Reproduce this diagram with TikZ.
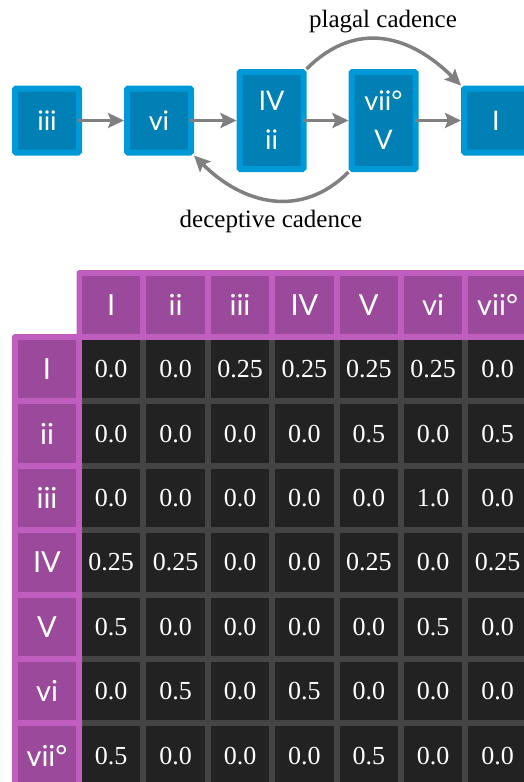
\documentclass[tikz,border=0pt]{standalone}
\usepackage{fontspec}
\setmainfont{Liberation Serif}
\newfontfamily\sansf{Lato}
\usetikzlibrary{arrows.meta}
\definecolor{boxbd}{HTML}{0099D8}
\definecolor{boxin}{HTML}{0080B4}
\definecolor{purpbd}{HTML}{C05EC0}
\definecolor{purpin}{HTML}{9B4A9B}
\definecolor{cellbg}{HTML}{222222}
\definecolor{gridbg}{HTML}{444444}
\definecolor{arrowgray}{HTML}{808080}
\begin{document}
\begin{tikzpicture}[x=1pt,y=-1pt,
 chord/.style={draw=boxbd, fill=boxin, line width=6pt, rounded corners=1pt, minimum width=64pt, minimum height=64pt, inner sep=0pt, text=white, font=\sansf\fontsize{27}{39}\selectfont, align=center},
 conn/.style={draw=arrowgray, line width=3.5pt, -{Stealth[length=16pt,width=15pt,inset=3pt]}},
 lbl/.style={font=\fontsize{25}{28}\selectfont, text=black, inner sep=0pt},
 hdr/.style={fill=purpin, minimum width=58.4pt, minimum height=58.4pt, inner sep=0pt, text=white, font=\sansf\fontsize{29}{30}\selectfont},
 datacell/.style={fill=cellbg, minimum width=58.4pt, minimum height=58.4pt, inner sep=0pt, text=white, font=\fontsize{26}{28}\selectfont},
 purpframe/.style={fill=purpbd, rounded corners=3pt}]
\useasboundingbox (0,0) rectangle (524,782);
\clip (0,0) rectangle (524,782);
% top graph
\node[chord] (iii) at (47,120.5) {iii};
\node[chord] (vi) at (159,120.5) {vi};
\node[chord, minimum height=97pt] (IVii) at (271.5,120.5) {IV\\ii};
\node[chord, minimum height=97pt] (viiV) at (383.5,120.5) {vii°\\V};
\node[chord] (I) at (496,120.5) {I};
\draw[conn, shorten <=-4pt] (iii) -- (vi);
\draw[conn, shorten <=-4pt] (vi) -- (IVii);
\draw[conn, shorten <=-4pt] (IVii) -- (viiV);
\draw[conn, shorten <=-4pt] (viiV) -- (I);
\draw[conn] (IVii.north east) .. controls +(50,-50) and +(-50,-50) .. (I.north west);
\draw[conn] (viiV.south west) .. controls +(-48,48) and +(48,48) .. (vi.south east);
\node[lbl] (plagal) at (383,22) {plagal cadence};
\node[lbl] (decept) at (271,221) {deceptive cadence};
% table
\fill[gridbg] (76,334) rectangle (560,820);
\fill[purpframe] (76.5,270) rectangle (560,340);
\fill[purpframe] (12,334) rectangle (82,830);
\foreach \lab [count=\i from 0] in {I,ii,iii,IV,V,vi,vii°} {
  \node[hdr] (h\i) at (111.2+64.4*\i, 304.7) {\lab};
  \node[hdr] (r\i) at (47, 369.2+64.4*\i) {\lab};
}
\foreach \row [count=\r from 0] in {
  {0.0,0.0,0.25,0.25,0.25,0.25,0.0},
  {0.0,0.0,0.0,0.0,0.5,0.0,0.5},
  {0.0,0.0,0.0,0.0,0.0,1.0,0.0},
  {0.25,0.25,0.0,0.0,0.25,0.0,0.25},
  {0.5,0.0,0.0,0.0,0.0,0.5,0.0},
  {0.0,0.5,0.0,0.5,0.0,0.0,0.0},
  {0.5,0.0,0.0,0.0,0.5,0.0,0.0}} {
  \foreach \v [count=\c from 0] in \row {
    \node[datacell] (c\r-\c) at (111.2+64.4*\c, 369.2+64.4*\r) {\v};
  }
}
\end{tikzpicture}
\end{document}
